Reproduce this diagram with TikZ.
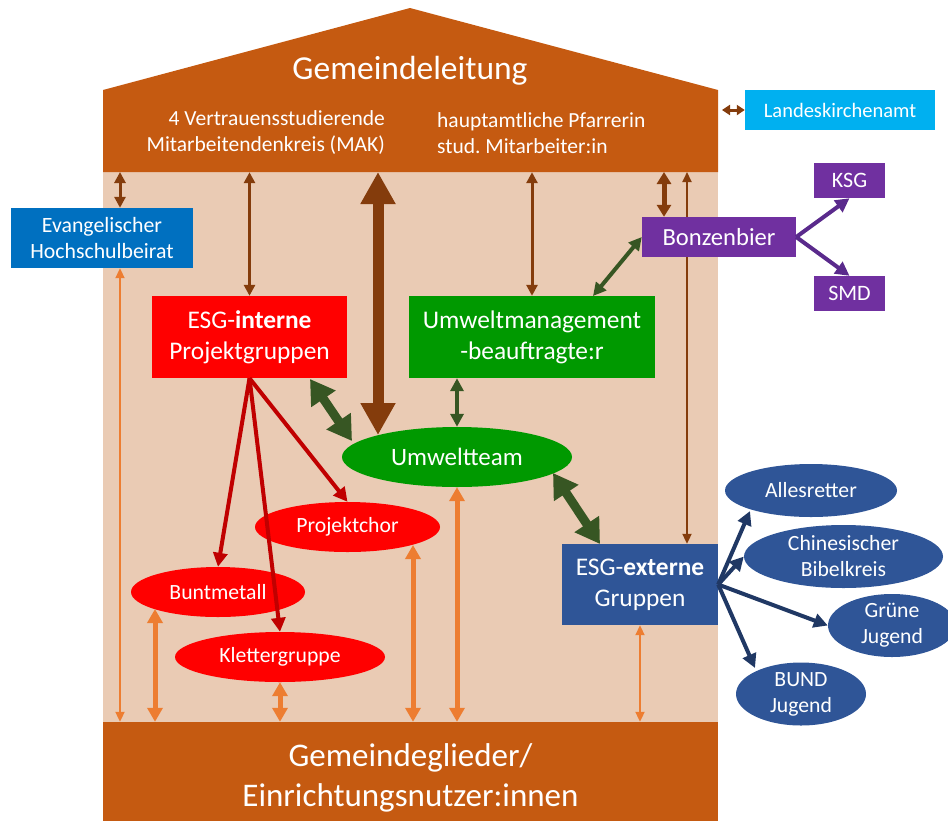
\documentclass[tikz,border=0pt]{standalone}
\usepackage{fontspec}
\setmainfont{Carlito}
\usetikzlibrary{arrows.meta,shapes.geometric,calc}
\pgfdeclarelayer{back}
\pgfdeclarelayer{behind}
\pgfsetlayers{back,behind,main}
\definecolor{roof}{HTML}{C55A11}
\definecolor{wall}{HTML}{EACBB4}
\definecolor{brownA}{HTML}{843C0C}
\definecolor{orangeA}{HTML}{ED7D31}
\definecolor{greenB}{HTML}{009900}
\definecolor{greenD}{HTML}{375623}
\definecolor{redB}{HTML}{FF0000}
\definecolor{redD}{HTML}{C00000}
\definecolor{blueE}{HTML}{0070C0}
\definecolor{cyanL}{HTML}{00B0F0}
\definecolor{purpleB}{HTML}{7030A0}
\definecolor{purpleD}{HTML}{5A2A8C}
\definecolor{blueX}{HTML}{2F5597}
\definecolor{navy}{HTML}{203864}
\newcommand\fsz[2]{\fontsize{#1}{#2}\selectfont}
\frenchspacing
\tikzset{
  box/.style={rectangle, text=white, align=center, inner sep=0pt},
  ell/.style={ellipse, text=white, align=center, inner sep=0pt},
  thin2/.style={line width=3pt, {Triangle[width=11pt,length=11pt]}-{Triangle[width=11pt,length=11pt]}},
  hair/.style={line width=2pt, {Triangle[width=9pt,length=10pt]}-{Triangle[width=9pt,length=10pt]}},
  med/.style={line width=5pt, {Triangle[width=15pt,length=14pt]}-{Triangle[width=15pt,length=14pt]}},
  fat/.style={line width=9pt, {Triangle[width=28pt,length=24pt]}-{Triangle[width=28pt,length=24pt]}},
  huge/.style={line width=11pt, {Triangle[width=33pt,length=32pt]}-{Triangle[width=33pt,length=32pt]}},
  gmid/.style={line width=4pt, {Triangle[width=13pt,length=13pt]}-{Triangle[width=13pt,length=13pt]}},
  one/.style={line width=4pt, -{Triangle[width=14pt,length=14pt]}},
}
\begin{document}
\begin{tikzpicture}[x=1pt,y=-1pt]
\useasboundingbox (0,0) rectangle (948,820);
\begin{pgfonlayer}{back}
\fill[wall] (103,172) rectangle (718,722);
\fill[roof] (103,90) -- (410,8) -- (718,90) -- (718,172) -- (103,172) -- cycle;
\end{pgfonlayer}
\node[box, minimum width=615pt, minimum height=82pt] (lead) at (410.5,131) {};
\node[text=white, font=\fsz{33.5}{40}] (title) at (410,71) {Gemeindeleitung};
\node[text=white, align=right, anchor=east, font=\fsz{21.5}{26}, inner sep=0pt] (leadL) at (385,133) {4 Vertrauensstudierende\\Mitarbeitendenkreis (MAK)};
\node[text=white, align=left, anchor=west, font=\fsz{21.5}{26}, inner sep=0pt] (leadR) at (437,133) {hauptamtliche Pfarrerin\\stud. Mitarbeiter:in};
\node[box, fill=roof, minimum width=615pt, minimum height=112pt, font=\fsz{33}{40}] (base) at (410.5,778) {Gemeindeglieder/\\Einrichtungsnutzer:innen};

\node[box, fill=blueE, minimum width=182pt, minimum height=60pt, font=\fsz{21.8}{26}] (hb) at (102,238) {Evangelischer\\Hochschulbeirat};
\node[box, fill=cyanL, minimum width=190pt, minimum height=40pt, font=\fsz{20.5}{24}] (lka) at (840,110) {Landeskirchenamt};
\node[box, fill=redB, minimum width=195pt, minimum height=82pt, font=\fsz{25.4}{31}] (ei) at (249.5,337) {ESG-\textbf{interne}\\Projektgruppen};
\node[box, fill=greenB, minimum width=246pt, minimum height=82pt, font=\fsz{25.4}{31}] (um) at (532,337) {Umweltmanagement\\-beauftragte:r};
\node[box, fill=purpleB, minimum width=154pt, minimum height=40pt, font=\fsz{24.6}{28}] (bz) at (719,237) {Bonzenbier};
\node[box, fill=purpleB, minimum width=71pt, minimum height=35pt, font=\fsz{22}{26}] (ksg) at (849.5,180.5) {KSG};
\node[box, fill=purpleB, minimum width=71pt, minimum height=35pt, font=\fsz{22}{26}] (smd) at (849.5,293.5) {SMD};
\node[ell, fill=greenB, minimum width=230pt, minimum height=60pt, font=\fsz{25}{28}] (ut) at (457,457) {Umweltteam};
\node[ell, fill=redB, minimum width=185pt, minimum height=50pt, font=\fsz{21.7}{25}] (pc) at (347.5,527) {Projektchor};
\node[ell, fill=redB, minimum width=174pt, minimum height=50pt, font=\fsz{21.7}{25}] (bm) at (218,592) {Buntmetall};
\node[ell, fill=redB, minimum width=210pt, minimum height=50pt, font=\fsz{21.7}{25}] (kg) at (280,657) {Klettergruppe};
\node[box, fill=blueX, minimum width=156pt, minimum height=81pt, font=\fsz{25.4}{31}] (ex) at (640,584.5) {ESG-\textbf{externe}\\Gruppen};
\node[ell, fill=blueX, minimum width=172pt, minimum height=53pt, font=\fsz{21.7}{25}] (ar) at (811,490.5) {Allesretter};
\node[ell, fill=blueX, minimum width=199pt, minimum height=63pt, font=\fsz{21.7}{26}] (cb) at (843.5,556.5) {Chinesischer\\Bibelkreis};
\node[ell, fill=blueX, minimum width=128pt, minimum height=63pt, font=\fsz{21.7}{26}] (gj) at (892,625.5) {Grüne\\Jugend};
\node[ell, fill=blueX, minimum width=130pt, minimum height=63pt, font=\fsz{21.7}{26}] (bj) at (801,694) {BUND\\Jugend};

% coordinates for connector ends
\coordinate (c1) at (120,172);
\coordinate (c4) at (378,172);
\coordinate (c4b) at (378,435);
\coordinate (c6) at (664,172);
\coordinate (c7) at (687,172);
\coordinate (lk0) at (722,110);
\coordinate (g1a) at (310,379);
\coordinate (g1b) at (352,441);
\coordinate (g2a) at (553,473);
\coordinate (g2b) at (600,544);
\coordinate (g3) at (593,296);
\coordinate (o1) at (155,609);
\coordinate (o3) at (413,545);
\coordinate (arT) at (750,511);
\coordinate (bjT) at (755,668);

% brown connectors from the leadership band
\draw[brownA, thin2] (c1) -- (hb.north -| c1);
\draw[brownA, thin2] (lead.south -| ei.north) -- (ei.north);
\draw[brownA, huge] (c4) -- (c4b);
\draw[brownA, thin2] (lead.south -| um.north) -- (um.north);
\draw[brownA, line width=5pt, {Triangle[width=14pt,length=12pt]}-{Triangle[width=14pt,length=12pt]}] (c6) -- (bz.north -| c6);
\begin{pgfonlayer}{behind}
\draw[brownA, hair] (c7) -- (ex.north -| c7);
\end{pgfonlayer}
\draw[brownA, line width=3pt, {Triangle[width=10pt,length=8pt]}-{Triangle[width=10pt,length=8pt]}] (lk0) -- (lka.west);

% green connectors
\draw[greenD, gmid] (bz.west) -- (g3);
\draw[greenD, fat] (g1a) -- (g1b);
\draw[greenD, gmid] (ut.north |- um.south) -- (ut.north);
\draw[greenD, fat] (g2a) -- (g2b);

% purple
\draw[purpleD, one] (bz.east) -- (ksg.south);
\draw[purpleD, one] (bz.east) -- (smd.north);

% red
\draw[redD, one] (ei.south) -- (bm.north);
\draw[redD, one] (ei.south) -- (kg.north);
\draw[redD, one] (ei.south) -- (pc.north);

% orange to the base
\draw[orangeA, hair] (hb.south -| c1) -- (base.north -| c1);
\draw[orangeA, med] (o1) -- (base.north -| o1);
\draw[orangeA, med] (kg.south) -- (base.north -| kg.south);
\draw[orangeA, med] (o3) -- (base.north -| o3);
\draw[orangeA, med] (ut.south) -- (base.north -| ut.south);
\draw[orangeA, hair] (ex.south) -- (base.north -| ex.south);

% navy
\draw[navy, one] (ex.east) -- (arT);
\draw[navy, one] (ex.east) -- (cb.west);
\draw[navy, one] (ex.east) -- (gj.west);
\draw[navy, one] (ex.east) -- (bjT);
\end{tikzpicture}
\end{document}
